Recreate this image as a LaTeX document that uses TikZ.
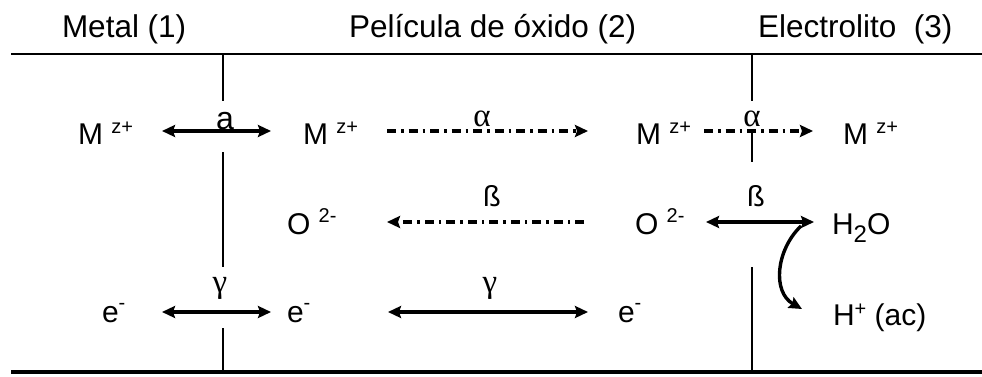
\documentclass[tikz,border=0pt]{standalone}
\usepackage{fontspec}
\setmainfont{Liberation Sans}
\newfontfamily\grk{Liberation Serif}
\usetikzlibrary{arrows.meta}
\newcommand\supx[2]{\raisebox{#1}{\fontsize{20}{20}\selectfont #2}}
\tikzset{
  lbl/.style={inner sep=0pt, outer sep=0pt, anchor=base west, font=\fontsize{30}{31}\selectfont},
  ttl/.style={inner sep=0pt, outer sep=0pt, anchor=base west, font=\fontsize{31.5}{32}\selectfont},
  glbl/.style={inner sep=0pt, outer sep=0pt, anchor=base, font=\grk\fontsize{33}{33}\selectfont},
  slbl/.style={inner sep=0pt, outer sep=0pt, anchor=base, font=\fontsize{29}{29}\selectfont},
  tip/.style={},
  arr/.style={line width=3.4pt, -{Stealth[length=13pt,width=12pt,inset=2pt]}},
  darr/.style={line width=3.4pt, {Stealth[length=13pt,width=12pt,inset=2pt]}-{Stealth[length=13pt,width=12pt,inset=2pt]}},
  dd/.style={dash pattern=on 9pt off 5pt on 2.5pt off 5pt},
  wall/.style={line width=1.6pt}
}
\begin{document}
\begin{tikzpicture}[x=1pt,y=-1pt]
\useasboundingbox (0,0) rectangle (982,377);
% frame lines
\coordinate (tl) at (11,54); \coordinate (tr) at (982,54);
\coordinate (bl) at (11,372); \coordinate (br) at (982,372);
\draw[line width=1.8pt] (tl) -- (tr);
\draw[line width=3.8pt] (bl) -- (br);
% walls
\coordinate (w1a) at (223,54); \coordinate (w1b) at (223,101);
\coordinate (w1c) at (223,152); \coordinate (w1d) at (223,267);
\coordinate (w1e) at (223,328); \coordinate (w1f) at (223,372);
\coordinate (w2a) at (752,54); \coordinate (w2b) at (752,101);
\coordinate (w2c) at (752,133); \coordinate (w2d) at (752,162);
\coordinate (w2e) at (752,267); \coordinate (w2f) at (752,372);
\draw[wall] (w1a) -- (w1b) (w1c) -- (w1d) (w1e) -- (w1f);
\draw[wall] (w2a) -- (w2b) (w2c) -- (w2d) (w2e) -- (w2f);
% titles
\node[ttl] (t1) at (62,38) {Metal (1)};
\node[ttl] (t2) at (349,38) {Película de óxido (2)};
\node[ttl] (t3) at (758,38) {Electrolito\ \ (3)};
% row 1
\node[lbl] (m1) at (78,145) {M \supx{12pt}{z+}};
\node[lbl] (m2) at (303,145) {M \supx{12pt}{z+}};
\node[lbl] (m3) at (636,145) {M \supx{12pt}{z+}};
\node[lbl] (m4) at (843,145) {M \supx{12pt}{z+}};
% row 2
\node[lbl] (o1) at (287,234) {O \supx{12pt}{2-}};
\node[lbl] (o2) at (635,234) {O \supx{12pt}{2-}};
\node[lbl] (h2o) at (832,234) {H\raisebox{-8pt}{\fontsize{24}{24}\selectfont 2}O};
% row 3
\node[lbl] (e1) at (102,322) {e\supx{13pt}{-}};
\node[lbl] (e2) at (287,322) {e\supx{13pt}{-}};
\node[lbl] (e3) at (618,322) {e\supx{13pt}{-}};
\node[lbl] (hp) at (833,325) {H\supx{10pt}{+} (ac)};
% arrow end points
\coordinate (a1s) at (162,131); \coordinate (a1e) at (271,131);
\coordinate (a2s) at (387,131); \coordinate (a2e) at (588,131);
\coordinate (a3s) at (704,131); \coordinate (a3e) at (813,131);
\coordinate (b1s) at (584,222); \coordinate (b1e) at (387,222);
\coordinate (b2s) at (706,222); \coordinate (b2e) at (814,222);
\coordinate (c1s) at (162,312); \coordinate (c1e) at (271,312);
\coordinate (c2s) at (388,312); \coordinate (c2e) at (588,312);
\coordinate (cvs) at (801,226); \coordinate (cve) at (802,309);
% arrows
\draw[darr] (a1s) -- (a1e);
\draw[arr,dd] (a2s) -- (a2e);
\draw[arr,dd] (a3s) -- (a3e);
\draw[arr,dd] (b1s) -- (b1e);
\draw[darr] (b2s) -- (b2e);
\draw[darr] (c1s) -- (c1e);
\draw[darr] (c2s) -- (c2e);
\draw[arr] (cvs) .. controls (776,250) and (772,292) .. (cve);
% arrow labels
\node[font=\fontsize{32}{32}\selectfont, inner sep=0pt, anchor=base] (la) at (225,130) {a};
\node[glbl] (al1) at (482,127) {α};
\node[glbl] (al2) at (752,127) {α};
\node[slbl] (be1) at (492,206) {ß};
\node[slbl] (be2) at (756,206) {ß};
\node[glbl] (ga1) at (220,292) {γ};
\node[glbl] (ga2) at (490,292) {γ};
\end{tikzpicture}
\end{document}
